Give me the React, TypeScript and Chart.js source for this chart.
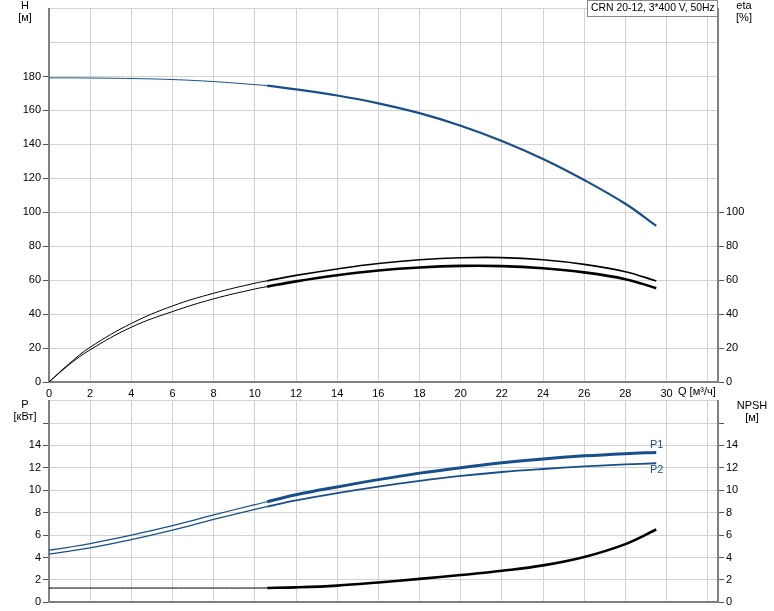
import { useEffect, useRef } from 'react';
import { Chart, registerables } from 'chart.js';

Chart.register(...registerables);

// ---- data (Q in m3/h) ----
const qValues = [0, 1, 2, 4, 6, 8, 10, 10.6, 12, 14, 16, 18, 20, 22, 24, 26, 28, 29.5];
const hValues = [179.2, 179.2, 179.1, 178.8, 178.2, 177.0, 175.2, 174.6, 172.4, 168.8, 164.2, 158.4, 151.0, 142.0, 131.4, 119.0, 105.0, 92.0];
const etaUpperValues = [0, 11, 20.5, 34.5, 44.8, 52.3, 58.2, 59.6, 62.8, 66.6, 69.8, 72.0, 73.2, 73.3, 72.0, 69.3, 65.0, 59.5];
const etaLowerValues = [0, 10.4, 19, 32.3, 41.5, 49.0, 54.8, 56.2, 59.3, 62.9, 65.7, 67.5, 68.4, 68.3, 67.0, 64.6, 60.6, 55.3];
const p1Values = [4.65, 4.93, 5.25, 6.0, 6.85, 7.8, 8.72, 8.98, 9.6, 10.3, 10.95, 11.53, 12.02, 12.45, 12.8, 13.07, 13.27, 13.38];
const p2Values = [4.3, 4.57, 4.86, 5.6, 6.45, 7.4, 8.3, 8.55, 9.1, 9.75, 10.33, 10.84, 11.28, 11.63, 11.9, 12.13, 12.31, 12.41];
const npshValues = [1.28, 1.28, 1.28, 1.28, 1.28, 1.28, 1.28, 1.29, 1.34, 1.5, 1.78, 2.1, 2.44, 2.82, 3.3, 4.05, 5.2, 6.5];

const opStart = 10.6;
const legendText = 'CRN 20-12, 3*400 V, 50Hz';

const BLUE = '#174f8d';
const GRID = '#d2d2d2';
const AXIS = '#808080';
const FONT = "'Liberation Sans', Arial, sans-serif";

function series(ys: number[]) {
  return qValues.map((x, i) => ({ x, y: ys[i] }));
}

function curve(label: string, ys: number[], color: string, thin: number, thick: number, axis: string) {
  return {
    label,
    data: series(ys),
    yAxisID: axis,
    borderColor: color,
    borderWidth: thin,
    pointRadius: 0,
    fill: false,
    tension: 0.4,
    segment: {
      borderWidth: (ctx: any) => (ctx.p0.parsed.x >= opStart - 0.001 ? thick : thin),
    },
  };
}

function textPlugin(id: string, offsetY: number, items: { t: string; x: number; y: number; align: CanvasTextAlign; color?: string; size?: number }[], box?: boolean) {
  return {
    id,
    afterDraw(chart: any) {
      const ctx = chart.ctx as CanvasRenderingContext2D;
      ctx.save();
      ctx.textBaseline = 'middle';
      if (box) {
        ctx.fillStyle = '#fff';
        ctx.fillRect(587, 0, 130, 16);
        ctx.strokeStyle = '#8a8a8a';
        ctx.lineWidth = 1;
        ctx.strokeRect(587.5, 0.5, 130, 16);
      }
      for (const it of items) {
        ctx.font = `${it.size || 11}px ${FONT}`;
        ctx.fillStyle = it.color || '#000';
        ctx.textAlign = it.align;
        ctx.fillText(it.t, it.x, it.y - offsetY);
      }
      ctx.restore();
    },
  };
}

function yAxis(position: 'left' | 'right', max: number, labelMax: number, tickMax: number, width: number, showGrid: boolean) {
  return {
    type: 'linear' as const,
    position,
    min: 0,
    max,
    afterFit: (a: any) => {
      a.width = width;
    },
    border: { display: true, color: AXIS, width: 2 },
    grid: {
      display: true,
      drawOnChartArea: showGrid,
      color: GRID,
      lineWidth: 1,
      drawTicks: true,
      tickLength: 6,
      tickColor: (c: any) => (c.tick && c.tick.value <= tickMax ? '#555' : 'rgba(0,0,0,0)'),
    },
    ticks: {
      stepSize: max > 50 ? 20 : 2,
      padding: 2,
      color: '#000',
      font: { size: 11, family: FONT },
      includeBounds: false,
      callback: (v: any) => (v <= labelMax ? String(v) : ''),
    },
  };
}

function xAxis(showLabels: boolean, height: number) {
  return {
    type: 'linear' as const,
    min: 0,
    max: 32.5,
    afterFit: (a: any) => {
      a.height = height;
    },
    border: { display: true, color: AXIS, width: 2 },
    grid: { color: GRID, lineWidth: 1, drawTicks: false },
    ticks: {
      display: showLabels,
      stepSize: 2,
      padding: 5,
      color: '#000',
      includeBounds: false,
      autoSkip: false,
      maxRotation: 0,
      font: { size: 11, family: FONT },
      callback: (v: any) => (v <= 30 ? String(v) : ''),
    },
  };
}

export default function App() {
  const topRef = useRef<HTMLCanvasElement>(null);
  const botRef = useRef<HTMLCanvasElement>(null);

  useEffect(() => {
    const top = new Chart(topRef.current!, {
      type: 'line',
      data: {
        datasets: [
          curve('H', hValues, BLUE, 1, 2.2, 'y'),
          curve('eta1', etaUpperValues, '#000', 1, 1.6, 'y2'),
          curve('eta2', etaLowerValues, '#000', 1, 2.6, 'y2'),
        ],
      },
      options: {
        animation: false,
        responsive: false,
        devicePixelRatio: 1,
        layout: { padding: { top: 1, left: 0, right: 0, bottom: 0 } },
        plugins: { legend: { display: false }, tooltip: { enabled: false } },
        scales: {
          x: xAxis(true, 16),
          y: yAxis('left', 220, 180, 180, 49, true),
          y2: yAxis('right', 220, 100, 100, 56, false),
        } as any,
      },
      plugins: [
        textPlugin('topText', 0, [
          { t: 'H', x: 25, y: 6, align: 'center' },
          { t: '[м]', x: 25, y: 18, align: 'center' },
          { t: 'eta', x: 744, y: 6, align: 'center' },
          { t: '[%]', x: 744, y: 18, align: 'center' },
          { t: 'Q [м³/ч]', x: 678, y: 392, align: 'left' },
          { t: legendText, x: 591, y: 8, align: 'left', size: 10.4 },
        ], true),
      ],
    });

    const bot = new Chart(botRef.current!, {
      type: 'line',
      data: {
        datasets: [
          curve('P1', p1Values, BLUE, 1.2, 3, 'y'),
          curve('P2', p2Values, BLUE, 1.2, 1.8, 'y'),
          curve('NPSH', npshValues, '#000', 1, 2.6, 'y2'),
        ],
      },
      options: {
        animation: false,
        responsive: false,
        devicePixelRatio: 1,
        layout: { padding: { top: 8, left: 0, right: 0, bottom: 0 } },
        plugins: { legend: { display: false }, tooltip: { enabled: false } },
        scales: {
          x: xAxis(false, 8),
          y: yAxis('left', 18, 14, 16, 49, true),
          y2: yAxis('right', 18, 14, 16, 56, false),
        } as any,
      },
      plugins: [
        textPlugin('botText', 392, [
          { t: 'P', x: 25, y: 405, align: 'center' },
          { t: '[кВт]', x: 25, y: 417, align: 'center' },
          { t: 'NPSH', x: 752, y: 406, align: 'center' },
          { t: '[м]', x: 752, y: 418, align: 'center' },
          { t: 'P1', x: 650, y: 445, align: 'left', color: BLUE },
          { t: 'P2', x: 650, y: 470, align: 'left', color: BLUE },
        ]),
      ],
    });

    return () => {
      top.destroy();
      bot.destroy();
    };
  }, []);

  return (
    <div style={{ position: 'absolute', left: 0, top: 0, width: 774, height: 611, background: '#fff' }}>
      <canvas ref={topRef} width={774} height={398} style={{ position: 'absolute', left: 0, top: 0 }} />
      <canvas ref={botRef} width={774} height={219} style={{ position: 'absolute', left: 0, top: 392 }} />
    </div>
  );
}
